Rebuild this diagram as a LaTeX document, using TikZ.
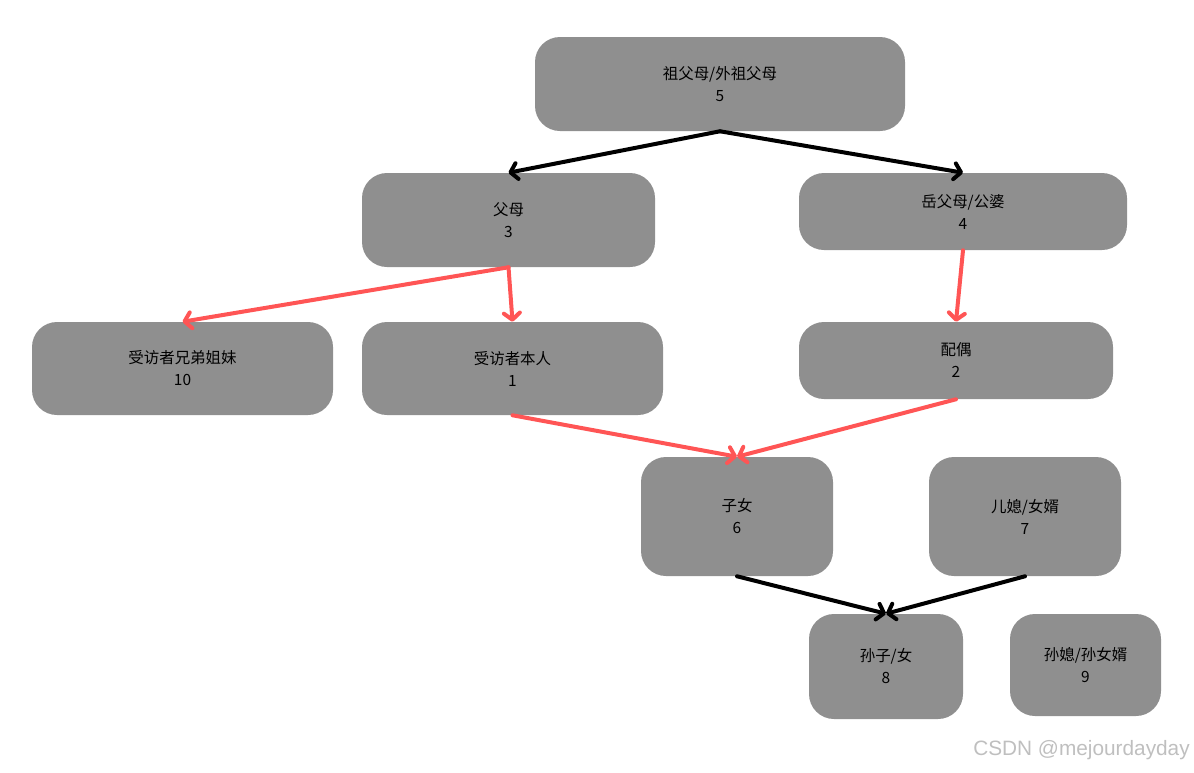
\documentclass[tikz,border=0pt]{standalone}
\usepackage{fontspec}
\setmainfont{Noto Sans CJK SC}
\newfontfamily\wmfont{Liberation Sans}
\usetikzlibrary{arrows.meta}
\newdimen\pxu \pxu=0.75pt
\definecolor{boxgray}{HTML}{8F8F8F}
\definecolor{redarrow}{HTML}{FF5555}
\tikzset{
  box/.style={fill=boxgray, draw=none, rounded corners=18.75pt, align=center,
    inner sep=0pt, font=\fontsize{11.6}{16.5}\selectfont},
  conn/.style={line width=3pt, line cap=round,
    -{Straight Barb[length=5pt,width=12pt,round,line width=3pt]}},
  blackconn/.style={conn, draw=black},
  redconn/.style={conn, draw=redarrow},
}
\begin{document}
\begin{tikzpicture}[x=0.75pt,y=-0.75pt]
\useasboundingbox (0,0) rectangle (1194,772);
\node[box, minimum width=370\pxu, minimum height=94\pxu] (n5) at (720,84) {祖父母/外祖父母\\5};
\node[box, minimum width=293\pxu, minimum height=94\pxu] (n3) at (508.5,220) {父母\\3};
\node[box, minimum width=328\pxu, minimum height=77\pxu] (n4) at (963,211.5) {岳父母/公婆\\4};
\node[box, minimum width=301\pxu, minimum height=93\pxu] (n10) at (182.5,368.5) {受访者兄弟姐妹\\10};
\node[box, minimum width=301\pxu, minimum height=93\pxu] (n1) at (512.5,368.5) {受访者本人\\1};
\node[box, minimum width=314\pxu, minimum height=77\pxu] (n2) at (956,360.5) {配偶\\2};
\node[box, minimum width=192\pxu, minimum height=119\pxu] (n6) at (737,516.5) {子女\\6};
\node[box, minimum width=192\pxu, minimum height=119\pxu] (n7) at (1025,516.5) {儿媳/女婿\\7};
\node[box, minimum width=154\pxu, minimum height=105\pxu] (n8) at (886,666.5) {孙子/女\\8};
\node[box, minimum width=151\pxu, minimum height=102\pxu] (n9) at (1085.5,665) {孙媳/孙女婿\\9};
\draw[blackconn] (n5.south) -- (n3.north);
\draw[blackconn] (n5.south) -- (n4.north);
\draw[redconn] (n3.south) -- (n10.north);
\draw[redconn] (n3.south) -- (n1.north);
\draw[redconn] (n4.south) -- (n2.north);
\draw[redconn] (n1.south) -- (n6.north);
\draw[redconn] (n2.south) -- (n6.north);
\draw[blackconn] (n6.south) -- (n8.north);
\draw[blackconn] (n7.south) -- (n8.north);
\node[anchor=south east, inner sep=0pt, text=black!25, font=\wmfont\fontsize{15.6}{16}\selectfont] (wm) at (1190,760) {CSDN @mejourdayday};
\end{tikzpicture}
\end{document}
